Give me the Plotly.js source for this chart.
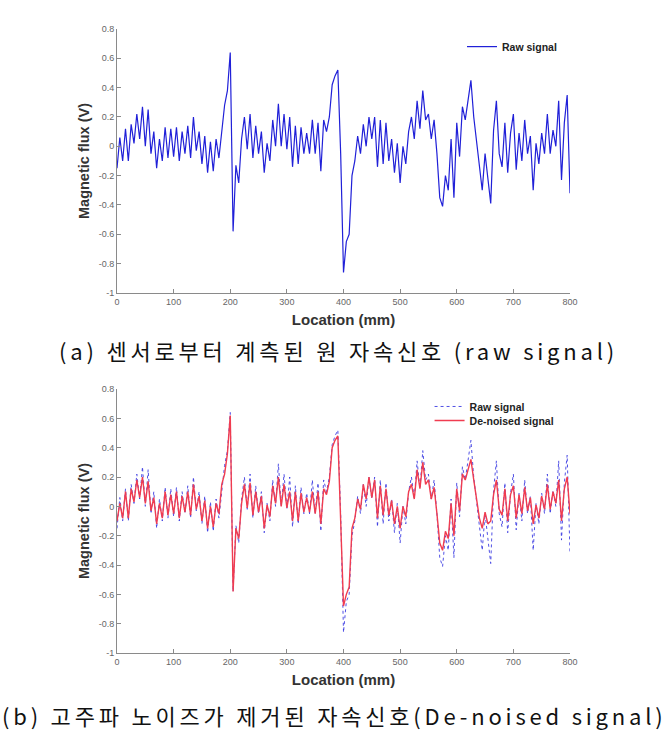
<!DOCTYPE html>
<html>
<head>
<meta charset="utf-8">
<script src="https://cdn.plot.ly/plotly-3.0.1.min.js"></script>
<style>
html,body{margin:0;padding:0;background:#fff;}
#chart{width:672px;height:733px;}
.annotation-text{letter-spacing:3.8px;}
</style>
</head>
<body>
<div id="chart"></div>
<script>
// Location (mm), 5 mm steps
const locationMm = [];
for (let i = 0; i <= 160; i++) locationMm.push(i * 5);

// Raw magnetic flux (V)
const rawSignal = [
 -0.15, 0.06, -0.10, 0.12, -0.10, 0.15, 0.02, 0.22, 0.05, 0.27,
  0.00, 0.25, -0.05, 0.10, -0.15, 0.05, -0.10, 0.13, -0.08, 0.12,
 -0.07, 0.13, -0.10, 0.10, -0.05, 0.14, -0.08, 0.20, -0.03, 0.10,
 -0.12, 0.07, -0.18, 0.03, -0.17, 0.05, -0.08, 0.10, 0.28, 0.38,
  0.64, -0.58, -0.13, -0.25, 0.05, 0.20, -0.02, 0.22, -0.08, 0.14,
 -0.05, 0.10, -0.18, 0.02, -0.10, 0.18, 0.00, 0.29, 0.00, 0.22,
 -0.02, 0.20, -0.14, 0.14, -0.12, 0.13, -0.05, 0.09, -0.05, 0.18,
 -0.05, 0.16, -0.17, 0.18, 0.10, 0.20, 0.42, 0.48, 0.52, -0.05,
 -0.86, -0.65, -0.60, -0.20, -0.10, 0.07, -0.05, 0.15, 0.00, 0.20,
  0.05, 0.20, -0.14, 0.18, -0.12, 0.16, -0.10, 0.05, -0.18, 0.02,
 -0.25, 0.00, -0.12, 0.10, 0.20, 0.05, 0.31, 0.12, 0.38, 0.18,
  0.22, 0.05, 0.18, -0.05, -0.35, -0.41, -0.20, -0.30, 0.05, -0.35,
  0.16, -0.07, 0.27, 0.18, 0.31, 0.45, 0.20, 0.04, -0.12, -0.30,
 -0.05, -0.20, -0.39, 0.11, 0.31, -0.05, -0.14, 0.16, -0.18, 0.09,
  0.22, -0.16, 0.09, -0.10, 0.18, -0.05, 0.07, -0.30, 0.02, -0.12,
  0.09, -0.05, 0.22, -0.05, 0.11, 0.00, 0.31, -0.23, 0.16, 0.35,
 -0.32
];

// De-noised magnetic flux (V)
const denoisedSignal = [
 -0.10, 0.02, -0.08, 0.10, -0.08, 0.12, 0.03, 0.18, 0.06, 0.20,
  0.02, 0.17, -0.03, 0.06, -0.12, 0.02, -0.08, 0.10, -0.06, 0.08,
 -0.05, 0.10, -0.08, 0.07, -0.04, 0.10, -0.06, 0.15, -0.02, 0.07,
 -0.10, 0.04, -0.15, 0.00, -0.14, 0.02, -0.05, 0.15, 0.22, 0.36,
  0.62, -0.58, -0.15, -0.22, 0.02, 0.15, -0.01, 0.16, -0.06, 0.10,
 -0.04, 0.07, -0.15, 0.01, -0.07, 0.14, 0.02, 0.20, 0.00, 0.15,
 -0.01, 0.10, -0.10, 0.10, -0.10, 0.09, -0.04, 0.06, -0.04, 0.10,
 -0.05, 0.10, -0.12, 0.12, 0.08, 0.17, 0.40, 0.45, 0.48, -0.05,
 -0.68, -0.60, -0.55, -0.15, -0.08, 0.05, -0.02, 0.15, 0.05, 0.20,
  0.06, 0.18, -0.08, 0.14, -0.06, 0.12, -0.06, 0.04, -0.12, 0.00,
 -0.15, 0.00, -0.07, 0.10, 0.15, 0.05, 0.25, 0.12, 0.30, 0.15,
  0.18, 0.05, 0.13, -0.05, -0.25, -0.30, -0.17, -0.22, 0.02, -0.20,
  0.12, -0.03, 0.22, 0.18, 0.25, 0.32, 0.18, 0.04, -0.08, -0.15,
 -0.04, -0.12, -0.10, 0.08, 0.18, -0.02, -0.06, 0.12, -0.10, 0.08,
  0.14, -0.08, 0.08, -0.05, 0.13, -0.03, 0.06, -0.12, 0.01, -0.08,
  0.07, -0.02, 0.15, -0.02, 0.10, 0.02, 0.18, -0.10, 0.12, 0.20,
 -0.05
];

const xTickVals = [0, 100, 200, 300, 400, 500, 600, 700, 800];
const xTickText = ["0", "100", "200", "300", "400", "500", "600", "700", "800"];
const yTickVals = [-1, -0.8, -0.6, -0.4, -0.2, 0, 0.2, 0.4, 0.6, 0.8];
const yTickText = ["-1", "-0.8", "-0.6", "-0.4", "-0.2", "0", "0.2", "0.4", "0.6", "0.8"];

const seriesNames = ["Raw signal", "De-noised signal"];
const xTitle = "Location (mm)";
const yTitle = "Magnetic flux (V)";
const captionA = "(a) 센서로부터 계측된 원 자속신호 (raw signal)";
const captionB = "(b) 고주파 노이즈가 제거된 자속신호(De-noised signal)";

const FONT = "Liberation Sans, Arial, sans-serif";
const axisGrey = "#8a8a8a";

const traces = [
  { x: locationMm, y: rawSignal, type: "scatter", mode: "lines", name: seriesNames[0],
    xaxis: "x", yaxis: "y", legend: "legend",
    line: { color: "#2020d8", width: 1.2 } },
  { x: locationMm, y: rawSignal, type: "scatter", mode: "lines", name: seriesNames[0],
    xaxis: "x2", yaxis: "y2", legend: "legend2",
    line: { color: "rgba(50,50,225,0.85)", width: 1, dash: "dot" } },
  { x: locationMm, y: denoisedSignal, type: "scatter", mode: "lines", name: seriesNames[1],
    xaxis: "x2", yaxis: "y2", legend: "legend3",
    line: { color: "rgb(240,60,80)", width: 1.4 } }
];

function xAxis(anchor) {
  return {
    anchor: anchor, range: [0, 800], tickvals: xTickVals, ticktext: xTickText,
    showline: true, linecolor: axisGrey, linewidth: 1, ticks: "inside", ticklen: 4,
    tickcolor: axisGrey, showgrid: false, zeroline: false, fixedrange: true,
    tickfont: { family: FONT, size: 9, color: "#666" },
    title: { text: xTitle, font: { family: FONT, size: 15, color: "#333", weight: "bold" }, standoff: 8 }
  };
}
function yAxis(anchor, domain) {
  return {
    anchor: anchor, domain: domain, range: [-1, 0.8], tickvals: yTickVals, ticktext: yTickText,
    showline: true, linecolor: axisGrey, linewidth: 1, ticks: "inside", ticklen: 4,
    tickcolor: axisGrey, showgrid: false, zeroline: false, fixedrange: true,
    tickfont: { family: FONT, size: 9, color: "#666" },
    title: { text: yTitle, font: { family: FONT, size: 14.5, color: "#333", weight: "bold" }, standoff: 5 }
  };
}

const legendFont = { family: FONT, size: 10.5, color: "#222", weight: "bold" };

const layout = {
  width: 672, height: 733,
  margin: { l: 117, r: 102, t: 29, b: 80 },
  paper_bgcolor: "#fff", plot_bgcolor: "#fff",
  showlegend: true,
  xaxis: xAxis("y"),
  yaxis: yAxis("x", [0.577, 1]),
  xaxis2: xAxis("y2"),
  yaxis2: yAxis("x2", [0, 0.423]),
  legend: { x: 0.7616, y: 0.995, xanchor: "left", yanchor: "top", bgcolor: "rgba(0,0,0,0)",
            itemwidth: 30, font: legendFont },
  legend2: { x: 0.69, y: 0.4183, xanchor: "left", yanchor: "top", bgcolor: "rgba(0,0,0,0)",
             itemwidth: 30, font: legendFont },
  legend3: { x: 0.69, y: 0.3958, xanchor: "left", yanchor: "top", bgcolor: "rgba(0,0,0,0)",
             itemwidth: 30, font: legendFont },
  annotations: [
    { text: captionA, xref: "paper", yref: "paper", x: 0.49, y: 0.486, xanchor: "center", yanchor: "middle",
      showarrow: false, font: { family: "Noto Sans CJK KR", size: 22, color: "#111" } },
    { text: captionB, xref: "paper", yref: "paper", x: 0.48, y: -0.099, xanchor: "center", yanchor: "middle",
      showarrow: false, font: { family: "Noto Sans CJK KR", size: 22, color: "#111" } }
  ]
};

Plotly.newPlot("chart", traces, layout, { staticPlot: true, displayModeBar: false });
</script>
</body>
</html>
